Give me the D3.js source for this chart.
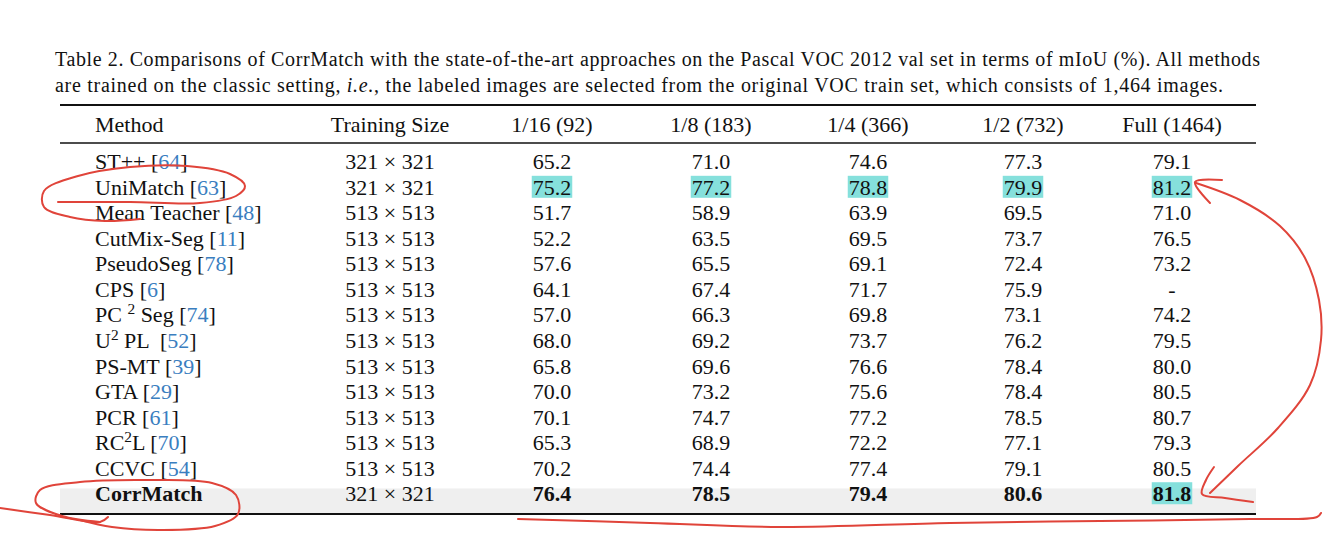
<!DOCTYPE html>
<html><head><meta charset="utf-8">
<script src="https://cdn.jsdelivr.net/npm/d3@7"></script>
<style>body{margin:0;background:#fff} text{white-space:pre}</style>
</head><body><svg id="c" width="1324" height="550"></svg>
<script>
// ---------- data ----------
const captionLine1 = "Table 2. Comparisons of CorrMatch with the state-of-the-art approaches on the Pascal VOC 2012 val set in terms of mIoU (%). All methods";
const captionLine2 = [["are trained on the classic setting, ", false], ["i.e.", true], [", the labeled images are selected from the original VOC train set, which consists of 1,464 images.", false]];
const headers = ["Method", "Training Size", "1/16 (92)", "1/8 (183)", "1/4 (366)", "1/2 (732)", "Full (1464)"];
const methods = ["ST++", "UniMatch", "Mean Teacher", "CutMix-Seg", "PseudoSeg", "CPS", "PC ^2 Seg", "U^2 PL ", "PS-MT", "GTA", "PCR", "RC^2L", "CCVC", "CorrMatch"];
const citations = ["64", "63", "48", "11", "78", "6", "74", "52", "39", "29", "61", "70", "54", null];
const trainingSizes = ["321 × 321", "321 × 321", "513 × 513", "513 × 513", "513 × 513", "513 × 513", "513 × 513", "513 × 513", "513 × 513", "513 × 513", "513 × 513", "513 × 513", "513 × 513", "321 × 321"];
const split16 = [65.2, 75.2, 51.7, 52.2, 57.6, 64.1, 57.0, 68.0, 65.8, 70.0, 70.1, 65.3, 70.2, 76.4];
const split8 = [71.0, 77.2, 58.9, 63.5, 65.5, 67.4, 66.3, 69.2, 69.6, 73.2, 74.7, 68.9, 74.4, 78.5];
const split4 = [74.6, 78.8, 63.9, 69.5, 69.1, 71.7, 69.8, 73.7, 76.6, 75.6, 77.2, 72.2, 77.4, 79.4];
const split2 = [77.3, 79.9, 69.5, 73.7, 72.4, 75.9, 73.1, 76.2, 78.4, 78.4, 78.5, 77.1, 79.1, 80.6];
const splitFull = [79.1, 81.2, 71.0, 76.5, 73.2, null, 74.2, 79.5, 80.0, 80.5, 80.7, 79.3, 80.5, 81.8];
const highlightCells = [["UniMatch", "1/16 (92)"], ["UniMatch", "1/8 (183)"], ["UniMatch", "1/4 (366)"], ["UniMatch", "1/2 (732)"], ["UniMatch", "Full (1464)"], ["CorrMatch", "Full (1464)"]];
const oursMethod = "CorrMatch";

// hand-drawn red annotation strokes (decoration)
const annotationStrokes = [
  [[58,202],[130,202],[200,203],[236,196],[245,186],[230,174],[187,166],[130,167],[78,176],[44,191],[44,207],[70,217],[105,221],[140,219]],
  [[0,508],[50,515],[100,522],[108,517]],
  [[100,522],[62,516],[36,503],[40,490],[80,482],[150,480],[212,483],[236,495],[238,514],[215,526],[160,530],[112,527],[80,520]],
  [[1196,183],[1240,200],[1280,226],[1305,258],[1319,300],[1321,340],[1310,385],[1278,428],[1238,466],[1210,493]],
  [[1222,180],[1195,182],[1210,203]],
  [[1214,467],[1206,480],[1202,494],[1225,498],[1253,502]],
  [[518,519],[650,523],[780,527],[950,523],[1100,521],[1250,519],[1317,517],[1321,513]]
];

// ---------- layout ----------
const svg = d3.select("#c");
const serif = "'Liberation Serif','Times New Roman',serif";
const tableLeft = 60, tableRight = 1256;
const colX = d3.scaleOrdinal(headers, [95, 390, 552, 711, 868, 1023, 1172]);
const y = d3.scaleBand(methods, [149.5, 507]);
const rowC = m => y(m) + y.bandwidth() / 2;
const fs = 22;
const seriesByHeader = new Map([["1/16 (92)", split16], ["1/8 (183)", split8], ["1/4 (366)", split4], ["1/2 (732)", split2], ["Full (1464)", splitFull]]);
const fmt = v => v == null ? "-" : d3.format(".1f")(v);

// caption
const cap1 = svg.append("text").attr("x", 55).attr("y", 66).attr("font-family", serif).attr("font-size", 20).attr("fill", "#111").text(captionLine1);
cap1.attr("textLength", 1205).attr("lengthAdjust", "spacing");
const cap2 = svg.append("text").attr("x", 55).attr("y", 92).attr("font-family", serif).attr("font-size", 20).attr("fill", "#111");
cap2.selectAll("tspan").data(captionLine2).join("tspan").attr("font-style", d => d[1] ? "italic" : "normal").text(d => d[0]);
cap2.attr("textLength", 1168).attr("lengthAdjust", "spacing");

// band for ours
svg.append("rect").attr("x", tableLeft).attr("width", tableRight - tableLeft)
  .attr("y", y(oursMethod) + 7).attr("height", 26).attr("fill", "#efefef");

// rules
svg.append("line").attr("x1", tableLeft).attr("x2", tableRight).attr("y1", 105).attr("y2", 105).attr("stroke", "#111").attr("stroke-width", 2);
svg.append("line").attr("x1", tableLeft).attr("x2", tableRight).attr("y1", 143).attr("y2", 143).attr("stroke", "#111").attr("stroke-width", 1.3);
svg.append("line").attr("x1", tableLeft).attr("x2", tableRight).attr("y1", 514).attr("y2", 514).attr("stroke", "#111").attr("stroke-width", 2);

// headers
svg.append("g").selectAll("text").data(headers).join("text")
  .attr("x", d => colX(d)).attr("y", 132).attr("font-family", serif).attr("font-size", fs).attr("fill", "#111")
  .attr("text-anchor", (d, i) => i === 0 ? "start" : "middle").text(d => d);

// method column
const mg = svg.append("g");
methods.forEach((m, i) => {
  const t = mg.append("text").attr("x", colX("Method")).attr("y", rowC(m) + 7).attr("font-family", serif)
    .attr("font-size", fs).attr("fill", "#111").attr("font-weight", m === oursMethod ? "bold" : "normal");
  const parts = m.split("^");
  if (parts.length === 1) t.append("tspan").text(m);
  else {
    t.append("tspan").text(parts[0]);
    t.append("tspan").attr("dy", -8).attr("font-size", fs * 0.7).text(parts[1][0]);
    t.append("tspan").attr("dy", 8).text(parts[1].slice(1));
  }
  if (citations[i] != null) {
    t.append("tspan").text(" [");
    t.append("tspan").attr("fill", "#3a7ebf").text(citations[i]);
    t.append("tspan").text("]");
  }
});

// training size column
svg.append("g").selectAll("text").data(methods).join("text")
  .attr("x", colX("Training Size")).attr("y", m => rowC(m) + 7).attr("text-anchor", "middle")
  .attr("font-family", serif).attr("font-size", fs).attr("fill", "#111").text((m, i) => trainingSizes[i]);

// highlights under values
const hl = svg.append("g");
const vg = svg.append("g");
headers.slice(2).forEach(h => {
  const vals = seriesByHeader.get(h);
  vg.selectAll(null).data(methods).join("text")
    .attr("x", colX(h)).attr("y", m => rowC(m) + 7).attr("text-anchor", "middle")
    .attr("font-family", serif).attr("font-size", fs).attr("fill", "#111")
    .attr("font-weight", m => m === oursMethod ? "bold" : "normal")
    .attr("data-key", m => m + "|" + h)
    .text((m, i) => fmt(vals[i]));
});
highlightCells.forEach(([m, h]) => {
  const node = vg.selectAll("text").filter(function () { return this.getAttribute("data-key") === m + "|" + h; }).node();
  const b = node.getBBox();
  hl.append("rect").attr("x", b.x - 1).attr("width", b.width + 2)
    .attr("y", rowC(m) - 12).attr("height", 22).attr("fill", "#85e0dc");
});

// annotations
const line = d3.line().curve(d3.curveCatmullRom.alpha(0.5));
svg.append("g").selectAll("path").data(annotationStrokes).join("path")
  .attr("d", line).attr("fill", "none").attr("stroke", "#e0443a").attr("stroke-width", 2)
  .attr("stroke-linecap", "round").attr("stroke-linejoin", "round");
</script></body></html>
